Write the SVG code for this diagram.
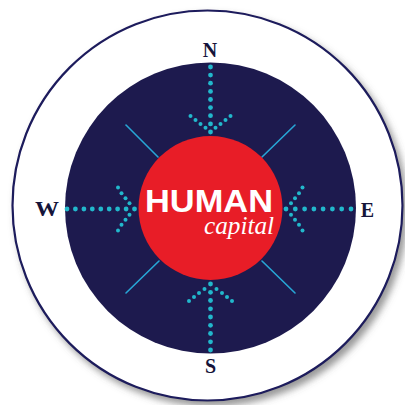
<svg xmlns="http://www.w3.org/2000/svg" width="405" height="405" viewBox="0 0 405 405">
<style>
.dir{font-family:"Liberation Serif","Times New Roman",serif;font-weight:bold;font-size:20px;fill:#15143a;text-anchor:middle}
.d{fill:#22b8cc}
.diag{stroke:#27a6d6;stroke-width:1.6;stroke-linecap:round}
</style>
<defs>
<filter id="sh" x="-10%" y="-10%" width="125%" height="125%">
<feDropShadow dx="4" dy="5" stdDeviation="3.5" flood-color="#555" flood-opacity="0.6"/>
</filter>
</defs>
<rect width="405" height="405" fill="#ffffff"/>
<g id="outer-ring">
<circle cx="207.5" cy="205.5" r="195" fill="#ffffff" stroke="#1d1a5c" stroke-width="2.2" filter="url(#sh)"/>
</g>
<g id="compass-face">
<circle cx="210.5" cy="208" r="145.5" fill="#1d1a4e"/>
</g>
<g id="connectors">
<g id="diagonals">
<line class="diag" x1="126" y1="125" x2="158" y2="157"/>
<line class="diag" x1="295" y1="125" x2="262" y2="157"/>
<line class="diag" x1="126" y1="293" x2="159" y2="261"/>
<line class="diag" x1="295" y1="293" x2="262" y2="261"/>
</g>
<g id="arrow-n">
<circle class="d" cx="210.5" cy="67" r="2.4"/><circle class="d" cx="210.5" cy="75.1" r="2.4"/><circle class="d" cx="210.5" cy="83.2" r="2.4"/><circle class="d" cx="210.5" cy="91.4" r="2.4"/><circle class="d" cx="210.5" cy="99.5" r="2.4"/><circle class="d" cx="210.5" cy="107.6" r="2.4"/><circle class="d" cx="210.5" cy="115.7" r="2.4"/><circle class="d" cx="210.5" cy="123.9" r="2.4"/><circle class="d" cx="210.5" cy="132" r="2.4"/>
<circle class="d" cx="205.5" cy="127.8" r="2"/><circle class="d" cx="200.5" cy="124" r="2"/><circle class="d" cx="195.5" cy="120" r="2"/><circle class="d" cx="190.5" cy="116" r="2"/>
<circle class="d" cx="215.5" cy="127.8" r="2"/><circle class="d" cx="220.5" cy="124" r="2"/><circle class="d" cx="225.5" cy="120" r="2"/><circle class="d" cx="230.5" cy="116" r="2"/>
</g>
<g id="arrow-s">
<circle class="d" cx="210.5" cy="284" r="2.4"/><circle class="d" cx="210.5" cy="292.3" r="2.4"/><circle class="d" cx="210.5" cy="300.5" r="2.4"/><circle class="d" cx="210.5" cy="308.8" r="2.4"/><circle class="d" cx="210.5" cy="317" r="2.4"/><circle class="d" cx="210.5" cy="325.3" r="2.4"/><circle class="d" cx="210.5" cy="333.5" r="2.4"/><circle class="d" cx="210.5" cy="341.8" r="2.4"/><circle class="d" cx="210.5" cy="350" r="2.4"/>
<circle class="d" cx="204.5" cy="289" r="2"/><circle class="d" cx="199" cy="293" r="2"/><circle class="d" cx="194" cy="297" r="2"/><circle class="d" cx="189" cy="301" r="2"/>
<circle class="d" cx="216.5" cy="289" r="2"/><circle class="d" cx="222" cy="293" r="2"/><circle class="d" cx="227" cy="297" r="2"/><circle class="d" cx="232" cy="301" r="2"/>
</g>
<g id="arrow-e">
<circle class="d" cx="286" cy="209" r="2.4"/><circle class="d" cx="295.3" cy="209" r="2.4"/><circle class="d" cx="304.6" cy="209" r="2.4"/><circle class="d" cx="313.9" cy="209" r="2.4"/><circle class="d" cx="323.1" cy="209" r="2.4"/><circle class="d" cx="332.4" cy="209" r="2.4"/><circle class="d" cx="341.7" cy="209" r="2.4"/><circle class="d" cx="351" cy="209" r="2.4"/>
<circle class="d" cx="291" cy="203.3" r="2"/><circle class="d" cx="295" cy="198.3" r="2"/><circle class="d" cx="299" cy="193.3" r="2"/><circle class="d" cx="302.5" cy="187.5" r="2"/>
<circle class="d" cx="291" cy="214.7" r="2"/><circle class="d" cx="295" cy="219.7" r="2"/><circle class="d" cx="299" cy="224.7" r="2"/><circle class="d" cx="302.5" cy="230.5" r="2"/>
</g>
<g id="arrow-w">
<circle class="d" cx="67" cy="209" r="2.4"/><circle class="d" cx="75.4" cy="209" r="2.4"/><circle class="d" cx="83.9" cy="209" r="2.4"/><circle class="d" cx="92.3" cy="209" r="2.4"/><circle class="d" cx="100.8" cy="209" r="2.4"/><circle class="d" cx="109.2" cy="209" r="2.4"/><circle class="d" cx="117.6" cy="209" r="2.4"/><circle class="d" cx="126.1" cy="209" r="2.4"/><circle class="d" cx="134.5" cy="209" r="2.4"/>
<circle class="d" cx="129.5" cy="203.3" r="2"/><circle class="d" cx="125.5" cy="198.3" r="2"/><circle class="d" cx="121.5" cy="193.3" r="2"/><circle class="d" cx="118" cy="187.5" r="2"/>
<circle class="d" cx="129.5" cy="214.7" r="2"/><circle class="d" cx="125.5" cy="219.7" r="2"/><circle class="d" cx="121.5" cy="224.7" r="2"/><circle class="d" cx="118" cy="230.5" r="2"/>
</g>
</g>
<g id="human-capital">
<circle cx="210.5" cy="208" r="72" fill="#e81d27"/>
<text x="145" y="212" font-family="Liberation Sans, Arial, sans-serif" font-weight="bold" font-size="31.5" fill="#ffffff" textLength="128" lengthAdjust="spacingAndGlyphs">HUMAN</text>
<text x="204" y="234" font-family="Liberation Serif, Times New Roman, serif" font-style="italic" font-size="25" fill="#ffffff" textLength="70" lengthAdjust="spacingAndGlyphs">capital</text>
</g>
<g id="label-n"><text class="dir" x="210" y="57">N</text></g>
<g id="label-s"><text class="dir" x="210.5" y="373">S</text></g>
<g id="label-w"><text class="dir" x="47" y="216" textLength="24" lengthAdjust="spacingAndGlyphs">W</text></g>
<g id="label-e"><text class="dir" x="367.5" y="216.5">E</text></g>
</svg>
